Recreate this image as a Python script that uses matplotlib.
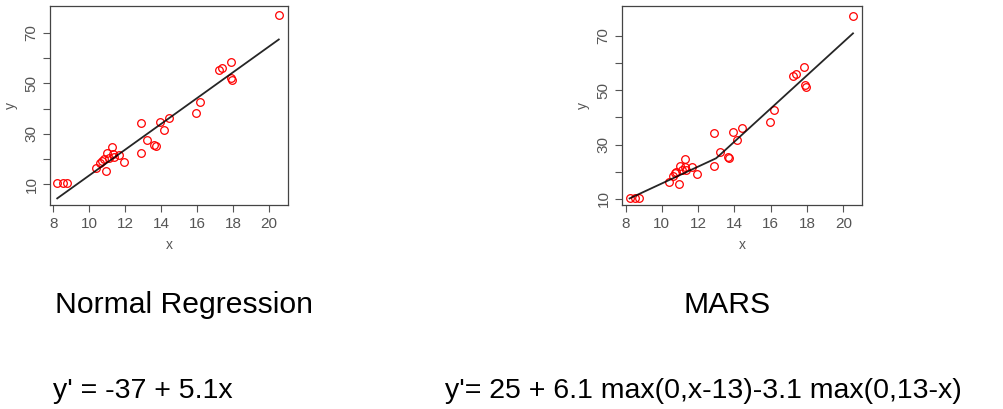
import numpy as np
import matplotlib.pyplot as plt

plt.rcParams['font.family'] = ['Liberation Sans', 'DejaVu Sans']

# dados (mesmos pontos nos dois paineis)
x = [8.22, 8.54, 8.74, 10.4, 10.6, 10.7, 10.8, 10.95, 11.0, 11.1, 11.25, 11.3,
     11.35, 11.65, 11.92, 12.85, 12.88, 13.22, 13.62, 13.7, 13.92, 14.14, 14.42,
     15.93, 16.17, 17.22, 17.4, 17.85, 17.9, 17.93, 20.53]
y = [10.3, 10.3, 10.3, 16.4, 18.3, 19.4, 20.0, 15.4, 22.3, 20.5, 24.7, 21.8,
     20.8, 21.7, 19.0, 22.3, 34.2, 27.4, 25.6, 25.0, 34.5, 31.6, 36.2,
     38.2, 42.7, 55.4, 56.0, 58.6, 52.0, 51.3, 77.3]

# coeficientes das equacoes
reg_a, reg_b = -37.7, 5.12
mars_c, mars_up, mars_dn, mars_knot = 25, 6.1, 3.1, 13

x_ticks = [8, 10, 12, 14, 16, 18, 20]
y_ticks = [10, 20, 30, 40, 50, 60, 70]
y_labels = ['10', '', '30', '', '50', '', '70']

titles = ['Normal Regression', 'MARS']
equations = ["y' = -37 + 5.1x", "y'= 25 + 6.1 max(0,x-13)-3.1 max(0,13-x)"]

xs = np.linspace(min(x), max(x), 200)
y_reg = reg_a + reg_b * xs
y_mars = mars_c + mars_up * np.maximum(0, xs - mars_knot) - mars_dn * np.maximum(0, mars_knot - xs)

fig = plt.figure(figsize=(10.04, 4.09), dpi=100)
ax1 = fig.add_axes([0.050, 0.499, 0.237, 0.487])
ax2 = fig.add_axes([0.620, 0.499, 0.239, 0.487])

for ax, yl, ylim in [(ax1, y_reg, (1.8, 80.8)), (ax2, y_mars, (7.8, 81.1))]:
    ax.plot(x, y, 'o', mfc='none', mec='red', ms=5.5, mew=0.9)
    ax.plot(xs, yl, color='black', lw=1.3, alpha=0.85)
    ax.set_xlim(7.83, 21.05)
    ax.set_ylim(*ylim)
    ax.set_xticks(x_ticks)
    ax.set_yticks(y_ticks)
    ax.set_yticklabels(y_labels, rotation=90, va='center')
    ax.tick_params(labelsize=11, colors='#555555', length=5, width=0.8)
    ax.set_xlabel('x', fontsize=10, color='#555555', labelpad=5)
    ax.set_ylabel('y', fontsize=10, color='#555555', labelpad=5)
    for s in ax.spines.values():
        s.set_color('#444444')
        s.set_linewidth(0.9)

fig.text(0.183, 0.235, titles[0], ha='center', va='baseline', fontsize=21.7)
fig.text(0.724, 0.235, titles[1], ha='center', va='baseline', fontsize=21.7)
fig.text(0.053, 0.027, equations[0], ha='left', va='baseline', fontsize=20.5)
fig.text(0.443, 0.027, equations[1], ha='left', va='baseline', fontsize=20.5)

plt.savefig('out.png', dpi=100)
